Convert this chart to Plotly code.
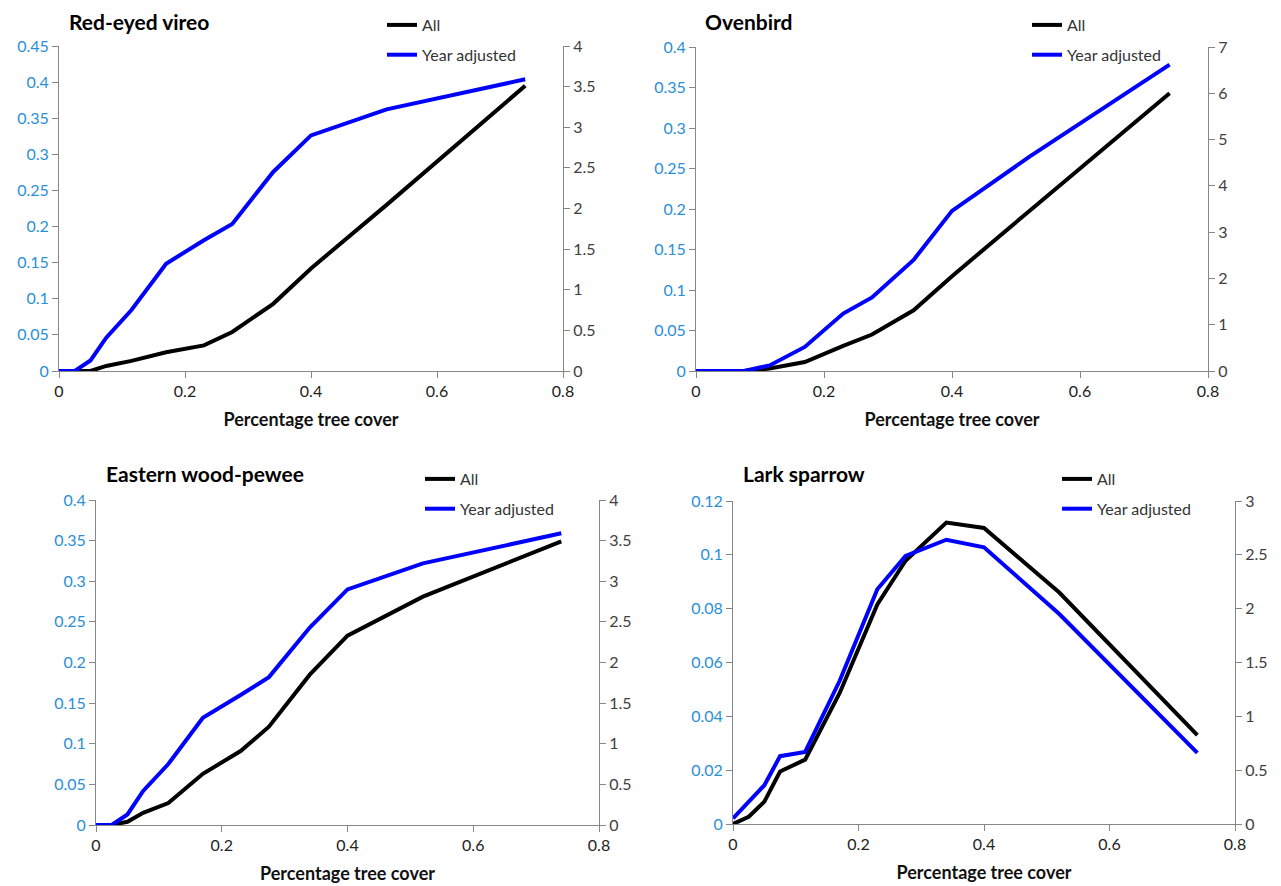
import plotly.graph_objects as go

# ---------------- data ----------------
x_cover = [0, 0.025, 0.05, 0.075, 0.115, 0.17, 0.23, 0.275, 0.34, 0.4, 0.52, 0.74]

species = ["Red-eyed vireo", "Ovenbird", "Eastern wood-pewee", "Lark sparrow"]
series_names = ["All", "Year adjusted"]

vireo_all = [0, 0, 0, 0.007, 0.014, 0.026, 0.0355, 0.054, 0.093, 0.142, 0.23, 0.395]
vireo_adj = [0, 0, 0.13, 0.41, 0.75, 1.32, 1.61, 1.81, 2.45, 2.90, 3.22, 3.59]

ovenbird_all = [0, 0, 0, 0, 0.003, 0.011, 0.031, 0.045, 0.075, 0.117, 0.197, 0.343]
ovenbird_adj = [0, 0, 0, 0, 0.12, 0.52, 1.24, 1.59, 2.40, 3.46, 4.62, 6.62]

pewee_all = [0, 0, 0.004, 0.015, 0.027, 0.063, 0.091, 0.121, 0.185, 0.233, 0.281, 0.349]
pewee_adj = [0, 0, 0.13, 0.42, 0.75, 1.32, 1.60, 1.82, 2.43, 2.90, 3.22, 3.59]

lark_all = [0, 0.0027, 0.0083, 0.0195, 0.0239, 0.0487, 0.0816, 0.0978, 0.112, 0.110, 0.086, 0.033]
lark_adj = [0.053, 0.2, 0.36, 0.63, 0.67, 1.33, 2.18, 2.49, 2.64, 2.57, 1.95, 0.66]

all_series = [vireo_all, ovenbird_all, pewee_all, lark_all]
adj_series = [vireo_adj, ovenbird_adj, pewee_adj, lark_adj]

left_ranges = [(0.45, 0.05), (0.4, 0.05), (0.4, 0.05), (0.12, 0.02)]
right_ranges = [(4, 0.5), (7, 1), (4, 0.5), (3, 0.5)]

# ---------------- layout geometry (screen pixels) ----------------
OFF = 8  # default page body margin
W, H = 1281 - OFF, 886 - OFF
# plot areas on screen: (x0, x1, ytop, ybottom)
areas = [(59, 563, 46, 371), (696, 1208, 47, 371),
         (96, 599, 500, 825), (733, 1235, 501, 824)]
# title: (left x, top y) on screen
title_pos = [(68, 8), (704, 8), (105, 460), (742, 460)]
legend_pos = [(382, 8), (1027, 8), (420, 462), (1057, 462)]

FONT = "Lato"
LEFT_COL = "#2a8fd6"
RIGHT_COL = "#404040"
AXIS_COL = "#878787"


def px(v):
    return (v - OFF) / W


def py(v):
    return 1 - (v - OFF) / H


fig = go.Figure()
layout = dict(
    width=W, height=H, margin=dict(l=0, r=0, t=0, b=0, autoexpand=False),
    paper_bgcolor="white", plot_bgcolor="white",
    font=dict(family=FONT, size=15, color="#222222"),
    annotations=[],
)


def fmt(v):
    s = ("%.3f" % v).rstrip("0").rstrip(".")
    return s if s else "0"


for i in range(4):
    n = i + 1
    xa = "x" if n == 1 else f"x{n}"
    yl_idx = 2 * i + 1
    yr_idx = 2 * i + 2
    yl = "y" if yl_idx == 1 else f"y{yl_idx}"
    yr = f"y{yr_idx}"
    leg = "legend" if n == 1 else f"legend{n}"

    fig.add_trace(go.Scatter(
        x=x_cover, y=all_series[i], mode="lines", name=series_names[0],
        line=dict(color="#000000", width=4), xaxis=xa, yaxis=yl,
        legend=leg, legendgroup=f"a{n}"))
    fig.add_trace(go.Scatter(
        x=x_cover, y=adj_series[i], mode="lines", name=series_names[1],
        line=dict(color="#0000ff", width=4), xaxis=xa, yaxis=yr,
        legend=leg, legendgroup=f"b{n}"))

    x0, x1, yt, yb = areas[i]
    xdom = [px(x0), px(x1)]
    ydom = [py(yb), py(yt)]

    xkey = "xaxis" if n == 1 else f"xaxis{n}"
    ylkey = "yaxis" if yl_idx == 1 else f"yaxis{yl_idx}"
    yrkey = f"yaxis{yr_idx}"

    layout[xkey] = dict(
        domain=xdom, anchor=yl, range=[0, 0.8], dtick=0.2, tick0=0,
        automargin=False,
        showgrid=False, zeroline=False, showline=True, linecolor=AXIS_COL,
        linewidth=1, ticks="outside", ticklen=6, tickcolor=AXIS_COL,
        tickfont=dict(family=FONT, size=16, color="#222222"),
        title=dict(text="Percentage tree cover", standoff=14,
                   font=dict(family=FONT, size=18, color="#111111", weight="bold")),
    )
    lmax, ldt = left_ranges[i]
    lvals = [round(k * ldt, 4) for k in range(int(round(lmax / ldt)) + 1)]
    layout[ylkey] = dict(
        domain=ydom, anchor=xa, range=[0, lmax], automargin=False,
        tickvals=lvals, ticktext=[fmt(v) for v in lvals],
        showgrid=False, zeroline=False, showline=True, linecolor=AXIS_COL,
        linewidth=1, ticks="outside", ticklen=6, tickcolor=AXIS_COL,
        tickfont=dict(family=FONT, size=16, color=LEFT_COL),
    )
    rmax, rdt = right_ranges[i]
    rvals = [round(k * rdt, 4) for k in range(int(round(rmax / rdt)) + 1)]
    layout[yrkey] = dict(
        domain=ydom, anchor=xa, overlaying=yl, side="right", range=[0, rmax],
        automargin=False,
        tickvals=rvals, ticktext=[fmt(v) for v in rvals],
        showgrid=False, zeroline=False, showline=True, linecolor=AXIS_COL,
        linewidth=1, ticks="outside", ticklen=6, tickcolor=AXIS_COL,
        tickfont=dict(family=FONT, size=16, color=RIGHT_COL),
    )

    lx, ly = legend_pos[i]
    layout[leg] = dict(
        x=px(lx), y=py(ly), xanchor="left", yanchor="top",
        bgcolor="rgba(0,0,0,0)", borderwidth=0, tracegroupgap=6,
        font=dict(family=FONT, size=16, color="#333333"),
    )

    tx, ty = title_pos[i]
    layout["annotations"].append(dict(
        text=species[i], xref="paper", yref="paper", x=px(tx), y=py(ty),
        xanchor="left", yanchor="top", showarrow=False, borderpad=0,
        font=dict(family=FONT, size=21, color="#000000", weight="bold")))

fig.update_layout(**layout)
fig.write_html("out.html")
